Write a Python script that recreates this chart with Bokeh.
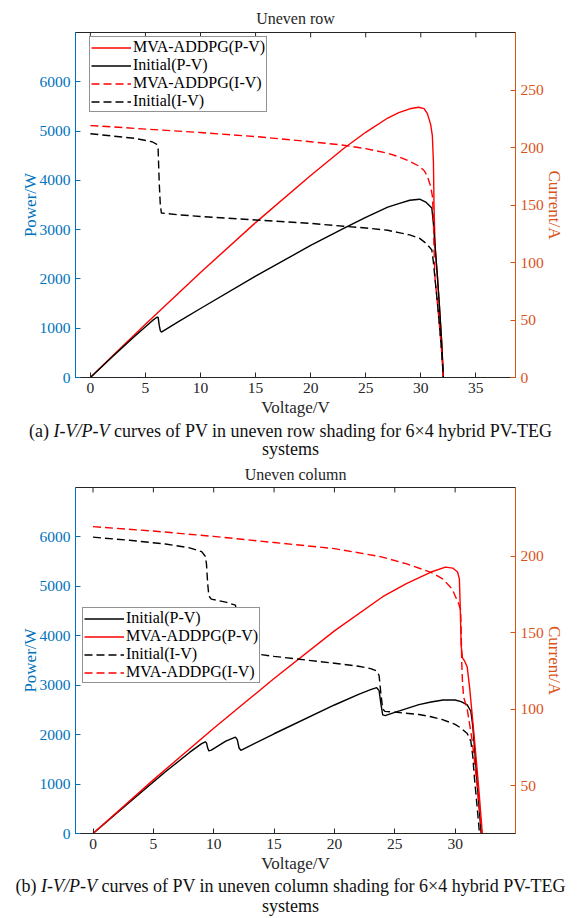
from bokeh.plotting import figure
from bokeh.models import Range1d, LinearAxis, Legend, LegendItem, Div, FixedTicker
from bokeh.layouts import column
from bokeh.embed import file_html
from bokeh.resources import INLINE

FONT = "Liberation Serif"
BLUE = "#0072BD"
ORANGE = "#D95319"
DARK = "#262626"
RED = "#FF0000"
BLACK = "#000000"

# ---------------- (a) Uneven row ----------------
row_mva_v = [0, 2, 5, 10, 15, 20, 23, 25, 27, 28, 29, 29.8, 30.3, 30.6, 30.9, 31.05, 31.15, 31.2, 31.3, 31.5, 31.7, 31.9, 32.05]
row_mva_i = [219, 218, 216, 213, 209.5, 205, 202, 199, 195, 192, 188, 184, 180, 175, 166, 158, 140, 112, 85, 66, 45, 22, 0]
row_mva_p = [0, 436, 1080, 2130, 3143, 4100, 4646, 4975, 5265, 5376, 5452, 5483, 5454, 5355, 5130, 4906, 4361, 3494, 2660, 2079, 1427, 702, 0]

row_ini_v = [0, 2, 4, 5.6, 6.0, 6.15, 6.25, 6.35, 6.45, 8, 10, 15, 20, 23, 25, 27, 28, 29, 29.9, 30.5, 31.0, 31.15, 31.3, 31.5, 31.7, 31.9, 32.05]
row_ini_i = [212, 210, 208, 205, 203, 199, 170, 150, 143, 141.5, 140, 137, 134, 131.5, 130, 128, 126, 124, 121, 116.5, 111, 100, 85, 66, 45, 22, 0]
row_ini_p = [0, 420, 832, 1148, 1218, 1224, 1062, 952, 922, 1132, 1400, 2055, 2680, 3025, 3250, 3456, 3528, 3596, 3618, 3553, 3441, 3115, 2660, 2079, 1427, 702, 0]

# ---------------- (b) Uneven column ----------------
col_mva_pv_v = [0, 5, 10, 15, 20, 24, 26, 28, 29.2, 29.8, 30.2, 30.35, 30.42, 30.5, 30.6, 30.8, 31.0, 31.2, 31.4, 31.6, 31.8, 32.0, 32.25]
col_mva_p = [0, 1085, 2130, 3135, 4100, 4790, 5060, 5290, 5390, 5370, 5290, 5150, 4600, 3800, 3560, 3480, 3370, 2950, 2430, 1900, 1350, 780, 0]

col_mva_iv_v = [0, 5, 10, 15, 20, 23.8, 26, 28, 29, 29.75, 30.3, 30.45, 30.5, 30.55, 30.6, 30.7, 31.0, 31.4, 31.8, 32.1, 32.3]
col_mva_i = [219.4, 216.5, 213, 209, 205, 199.8, 195, 189.5, 185, 178.6, 168.8, 165, 150, 130, 119, 108, 100, 80, 52, 28, 10]

col_ini_v = [0, 3, 6, 8, 9.0, 9.3, 9.4, 9.5, 9.6, 9.8, 11, 11.8, 11.95, 12.1, 12.25, 15, 20, 22, 23, 23.5, 23.7, 23.85, 24.0, 24.2, 25, 27, 28, 29, 30, 30.5, 31, 31.3, 31.45, 31.6, 31.8, 32.0, 32.15]
col_ini_i = [212.5, 210.5, 208, 205.5, 203, 200, 195, 182, 174, 172, 170, 168, 160, 145, 137.5, 134.5, 130, 128, 126.5, 125, 122, 110, 100, 98.5, 98, 96.5, 95, 93, 90, 87.5, 84, 79, 70, 55, 38, 20, 8]
col_ini_p = [0, 630, 1248, 1640, 1818, 1855, 1833, 1729, 1670, 1686, 1870, 1950, 1900, 1730, 1684, 2018, 2600, 2816, 2910, 2950, 2890, 2620, 2400, 2384, 2450, 2606, 2660, 2700, 2700, 2669, 2604, 2473, 2200, 1740, 1110, 480, 0]

power_ticks = [0, 1000, 2000, 3000, 4000, 5000, 6000]
row_x_ticks = [0, 5, 10, 15, 20, 25, 30, 35]
col_x_ticks = [0, 5, 10, 15, 20, 25, 30]
row_i_ticks = [0, 50, 100, 150, 200, 250]
col_i_ticks = [50, 100, 150, 200]

POWER_MAX = 7000
TOP_TICK_LEN = 100  # inward tick length on the top edge, in power units (~5 px)


def style_axis(ax, color, ticks):
    ax.ticker = FixedTicker(ticks=ticks)
    ax.axis_line_color = color
    ax.axis_line_width = 1
    ax.major_tick_line_color = color
    ax.major_tick_in = 5
    ax.major_tick_out = 0
    ax.minor_tick_line_color = None
    ax.major_label_text_color = color
    ax.major_label_text_font = FONT
    ax.major_label_text_font_size = "15.5px"
    ax.major_label_standoff = 5
    ax.axis_label_text_color = color
    ax.axis_label_text_font = FONT
    ax.axis_label_text_font_size = "17px"
    ax.axis_label_text_font_style = "normal"


def make_panel(title, xr, yr2, xticks, iticks, height, btop, bbottom, tstand, lines, legend_loc):
    p = figure(width=581, height=height, x_range=Range1d(*xr), y_range=Range1d(0, POWER_MAX),
               output_backend="svg", toolbar_location=None,
               min_border_left=75, min_border_right=66,
               min_border_top=btop, min_border_bottom=bbottom, title=title)
    p.extra_y_ranges = {"cur": Range1d(*yr2)}
    p.xgrid.visible = False
    p.ygrid.visible = False
    p.outline_line_color = DARK
    p.outline_line_width = 1
    p.background_fill_color = "white"
    p.border_fill_color = "white"

    p.title.text_font = FONT
    p.title.text_font_style = "normal"
    p.title.text_font_size = "16px"
    p.title.text_color = DARK
    p.title.align = "center"
    p.title.standoff = tstand

    style_axis(p.xaxis[0], DARK, xticks)
    p.xaxis[0].axis_label = "Voltage/V"
    p.xaxis[0].axis_label_standoff = 2
    style_axis(p.yaxis[0], BLUE, power_ticks)
    p.yaxis[0].axis_label = "Power/W"
    p.yaxis[0].axis_label_standoff = -3

    right = LinearAxis(y_range_name="cur", axis_label="Current/A")
    style_axis(right, ORANGE, iticks)
    right.axis_label_standoff = -2
    p.add_layout(right, "right")

    # inward tick marks along the top edge of the box
    p.segment(x0=xticks, x1=xticks, y0=[POWER_MAX] * len(xticks),
              y1=[POWER_MAX - TOP_TICK_LEN] * len(xticks), line_color=DARK, line_width=1)

    items = []
    for label, v, y, color, dash, on_right in lines:
        if on_right:
            r = p.line(v, y, y_range_name="cur", line_color=color, line_width=1.4, line_dash=dash)
        else:
            r = p.line(v, y, line_color=color, line_width=1.4, line_dash=dash)
        items.append((label, r))

    leg = Legend(items=[LegendItem(label=l, renderers=[r]) for l, r in items], location=legend_loc)
    leg.label_text_font = FONT
    leg.label_text_font_size = "16px"
    leg.label_text_color = BLACK
    leg.glyph_width = 40
    leg.glyph_height = 15
    leg.label_height = 15
    leg.label_standoff = 2
    leg.spacing = 0
    leg.padding = 1
    leg.margin = 0
    leg.border_line_color = DARK
    leg.border_line_width = 1.2
    leg.background_fill_alpha = 1
    p.add_layout(leg)
    return p


p1 = make_panel("Uneven row", (-1.35, 38.6), (0, 300), row_x_ticks, row_i_ticks, 422, 32, 45, 12, [
    ("MVA-ADDPG(P-V)", row_mva_v, row_mva_p, RED, "solid", False),
    ("Initial(P-V)", row_ini_v, row_ini_p, BLACK, "solid", False),
    ("MVA-ADDPG(I-V)", row_mva_v, row_mva_i, RED, "8 4", True),
    ("Initial(I-V)", row_ini_v, row_ini_i, BLACK, "8 4", True),
], (14, 265))

p2 = make_panel("Uneven column", (-1.45, 35), (18.6, 245), col_x_ticks, col_i_ticks, 418, 29, 43, 9, [
    ("Initial(P-V)", col_ini_v, col_ini_p, BLACK, "solid", False),
    ("MVA-ADDPG(P-V)", col_mva_pv_v, col_mva_p, RED, "solid", False),
    ("Initial(I-V)", col_ini_v, col_ini_i, BLACK, "8 4", True),
    ("MVA-ADDPG(I-V)", col_mva_iv_v, col_mva_i, RED, "8 4", True),
], (7, 150))

cap_style = {"font-family": FONT, "font-size": "18px", "line-height": "18px",
             "text-align": "center", "color": "#111111", "width": "581px"}

d1 = Div(text="(a) <i>I-V/P-V</i> curves of PV in uneven row shading for 6&times;4 hybrid PV-TEG<br>systems",
         width=581, height=36, margin=(0, 0, 0, 0), styles=cap_style)
d2 = Div(text="(b) <i>I-V/P-V</i> curves of PV in uneven column shading for 6&times;4 hybrid PV-TEG<br>systems",
         width=581, height=42, margin=(0, 0, 0, 0), styles=dict(cap_style, **{"line-height": "20px"}))

layout = column(p1, d1, p2, d2, spacing=0)

open("out.html", "w").write(file_html(layout, INLINE))
